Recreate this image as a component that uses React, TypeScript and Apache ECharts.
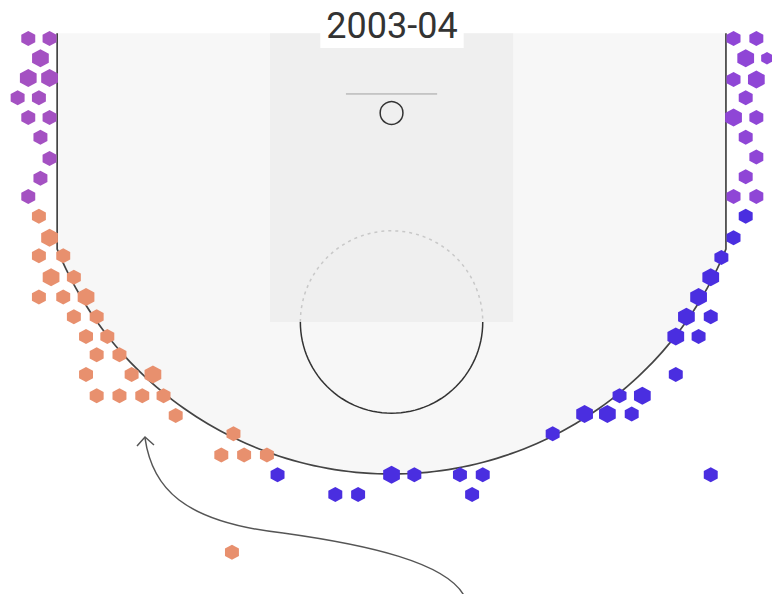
import React, { useEffect, useRef } from "react";
import * as echarts from "echarts";

const TITLE = "2003-04";

// Hexbinned shots: [LOC_X, LOC_Y, count] in tenths of feet, hoop at the origin
const leftCorner = [
  [-239, -49, 2], [-225, -49, 2], [-231, -36, 3], [-239, -23, 3], [-225, -23, 3],
  [-246, -10, 2], [-232, -10, 2], [-239, 3, 2], [-225, 3, 2], [-231, 16, 2],
  [-225, 30, 2], [-231, 43, 2], [-239, 55, 2],
];
const rightCorner = [
  [225, -49, 2], [240, -49, 2], [233, -36, 3], [247, -36, 1], [225, -22, 2],
  [240, -22, 3], [233, -10, 2], [225, 3, 3], [240, 3, 2], [233, 16, 2],
  [240, 29, 2], [233, 42, 2], [225, 55, 2], [240, 55, 2],
];
const leftWing = [
  [-232, 68, 2], [-225, 82, 3], [-232, 94, 2], [-216, 94, 2], [-224, 108, 3],
  [-209, 108, 2], [-232, 121, 2], [-216, 121, 2], [-201, 121, 3], [-209, 134, 2],
  [-194, 134, 2], [-201, 147, 2], [-187, 147, 2], [-194, 159, 2], [-179, 159, 2],
  [-201, 172, 2], [-171, 172, 2], [-157, 172, 3], [-194, 186, 2], [-179, 186, 2],
  [-164, 186, 2], [-150, 186, 2], [-142, 199, 2], [-104, 211, 2], [-112, 225, 2],
  [-97, 225, 2], [-82, 225, 2], [-105, 289, 2],
];
const rightWingTop = [
  [233, 68, 2], [225, 82, 2], [217, 95, 2], [210, 108, 3], [202, 121, 3],
  [194, 134, 3], [210, 134, 2], [187, 147, 3], [202, 147, 2], [187, 172, 2],
  [150, 186, 2], [165, 186, 3], [127, 198, 3], [142, 198, 3], [158, 198, 2],
  [106, 211, 2], [210, 238, 2], [60, 238, 2], [45, 238, 2], [53, 251, 2],
  [15, 238, 2], [0, 238, 3], [-22, 251, 2], [-37, 251, 2], [-75, 238, 2],
];

const ZONE_COLORS = ["#a451c2", "#8f46d6", "#e8906e", "#4a2ee0"];

// Court geometry (tenths of feet)
const BASELINE = -52.5;
const THREE_R = 237.5;
const CORNER_X = 220;
const PAINT_HALF = 80;
const FT_LINE = 137.5;
const FT_R = 60;
const BACKBOARD_Y = -12.5;
const BACKBOARD_HALF = 30;
const RIM_R = 7.5;

const HEX = "path://M0,-10L8.66,-5L8.66,5L0,10L-8.66,5L-8.66,-5Z";
const SIZE_BY_COUNT: Record<number, number> = { 1: 12.5, 2: 15, 3: 18 };

function renderCourt(_params: any, api: any) {
  const c = (x: number, y: number) => api.coord([x, y]);
  const yc = Math.sqrt(THREE_R * THREE_R - CORNER_X * CORNER_X);
  const a0 = Math.atan2(yc, -CORNER_X);
  const a1 = Math.atan2(yc, CORNER_X);
  const arc: number[][] = [];
  const N = 120;
  for (let i = 0; i <= N; i++) {
    const t = a0 + ((a1 - a0) * i) / N;
    arc.push(c(THREE_R * Math.cos(t), THREE_R * Math.sin(t)));
  }
  const outline = [c(-CORNER_X, BASELINE), c(-CORNER_X, yc), ...arc, c(CORNER_X, yc), c(CORNER_X, BASELINE)];
  const p1 = c(-PAINT_HALF, BASELINE);
  const p2 = c(PAINT_HALF, FT_LINE);
  const lower: number[][] = [];
  const upper: number[][] = [];
  for (let i = 0; i <= 60; i++) {
    const t = (Math.PI * i) / 60;
    lower.push(c(FT_R * Math.cos(t), FT_LINE + FT_R * Math.sin(t)));
    upper.push(c(FT_R * Math.cos(Math.PI + t), FT_LINE + FT_R * Math.sin(Math.PI + t)));
  }
  const rim = c(0, 0);
  const rimR = Math.abs(api.size([RIM_R, 0])[0]);
  return {
    type: "group",
    children: [
      { type: "polygon", shape: { points: outline }, style: { fill: "#f7f7f7", stroke: null } },
      {
        type: "rect",
        shape: { x: p1[0], y: p1[1], width: p2[0] - p1[0], height: p2[1] - p1[1] },
        style: { fill: "#efefef", stroke: null },
      },
      { type: "polyline", shape: { points: upper }, style: { stroke: "#c8c8c8", lineWidth: 1.5, lineDash: [3, 4], fill: null } },
      { type: "polyline", shape: { points: lower }, style: { stroke: "#333", lineWidth: 1.5, fill: null } },
      { type: "polyline", shape: { points: outline }, style: { stroke: "#444", lineWidth: 1.7, fill: null } },
      {
        type: "line",
        shape: {
          x1: c(-BACKBOARD_HALF, BACKBOARD_Y)[0], y1: c(-BACKBOARD_HALF, BACKBOARD_Y)[1],
          x2: c(BACKBOARD_HALF, BACKBOARD_Y)[0], y2: c(BACKBOARD_HALF, BACKBOARD_Y)[1],
        },
        style: { stroke: "#a0a0a0", lineWidth: 1 },
      },
      { type: "circle", shape: { cx: rim[0], cy: rim[1], r: rimR }, style: { fill: "none", stroke: "#333", lineWidth: 1.5 } },
    ],
  };
}

function zoneSeries(name: string, data: number[][], color: string) {
  return {
    type: "scatter",
    name,
    data,
    z: 3,
    symbol: HEX,
    symbolSize: (v: number[]) => {
      const h = SIZE_BY_COUNT[v[2]] || 15;
      return [h * 0.93, h];
    },
    itemStyle: { color, opacity: 1 },
    silent: true,
  };
}

export default function App() {
  const ref = useRef<HTMLDivElement>(null);
  useEffect(() => {
    if (!ref.current) return;
    const chart = echarts.init(ref.current, undefined, { renderer: "svg" });
    chart.setOption({
      animation: false,
      backgroundColor: "#ffffff",
      grid: { left: 0, right: 0, top: 0, bottom: 0 },
      xAxis: { type: "value", min: -257.6, max: 250.3, show: false, splitLine: { show: false } },
      yAxis: { type: "value", min: -74.3, max: 316.4, inverse: true, show: false, splitLine: { show: false } },
      series: [
        { type: "custom", name: "court", data: [[0, 0]], renderItem: renderCourt, z: 1, silent: true, clip: false },
        zoneSeries("Left corner 3", leftCorner, ZONE_COLORS[0]),
        zoneSeries("Right corner 3", rightCorner, ZONE_COLORS[1]),
        zoneSeries("Left wing 3", leftWing, ZONE_COLORS[2]),
        zoneSeries("Right wing / top 3", rightWingTop, ZONE_COLORS[3]),
      ],
      graphic: [
        {
          type: "text",
          x: 392,
          y: 26,
          z: 100,
          style: {
            text: TITLE,
            fill: "#333",
            fontSize: 36,
            fontFamily: "Roboto",
            fontWeight: 400,
            align: "center",
            verticalAlign: "middle",
            textAlign: "center",
            textVerticalAlign: "middle",
            backgroundColor: "#ffffff",
            padding: [4, 6, 4, 6],
          },
        },
        {
          type: "bezierCurve",
          z: 100,
          shape: { x1: 145, y1: 438, cpx1: 152, cpy1: 487, cpx2: 182, cpy2: 522, x2: 283, y2: 533 },
          style: { stroke: "#555", lineWidth: 1.5, fill: null },
        },
        {
          type: "bezierCurve",
          z: 100,
          shape: { x1: 283, y1: 533, cpx1: 362, cpy1: 544, cpx2: 452, cpy2: 562, x2: 466, y2: 600 },
          style: { stroke: "#555", lineWidth: 1.5, fill: null },
        },
        {
          type: "polyline",
          z: 100,
          shape: { points: [[137, 446], [145, 437], [154, 445]] },
          style: { stroke: "#555", lineWidth: 1.5, fill: null },
        },
      ],
    });
    return () => chart.dispose();
  }, []);
  return <div ref={ref} style={{ position: "fixed", left: 0, top: 0, width: 772, height: 594 }} />;
}
